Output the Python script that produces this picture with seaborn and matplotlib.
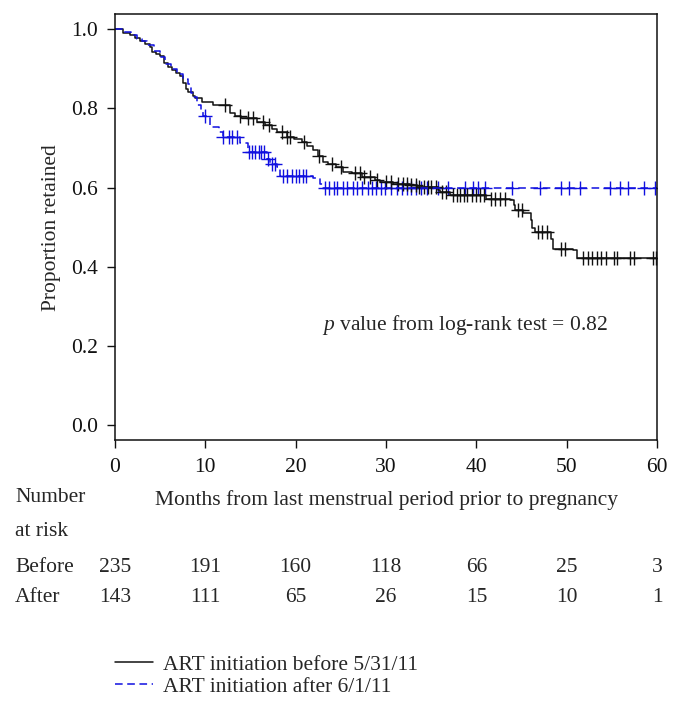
import numpy as np
import pandas as pd
import matplotlib
matplotlib.use("Agg")
import matplotlib.pyplot as plt
import matplotlib.transforms as mtransforms
import seaborn as sns

# Kaplan-Meier steps (event time, survival after the step)
before_times = [0, 0.9, 1.7, 2.2, 2.8, 3.4, 3.9, 4.1, 4.6, 5.0, 5.5, 5.9, 6.3, 6.8, 7.2, 7.5,
                7.9, 8.1, 8.6, 8.9, 9.7, 10.9, 12.7, 13.3, 14.0, 15.7, 16.6, 17.4, 17.9, 19.0,
                19.8, 20.7, 21.3, 21.9, 22.5, 23.0, 23.6, 24.5, 25.2, 26.2, 27.3, 28.8, 29.3,
                30.8, 32.7, 33.4, 35.8, 36.0, 37.1, 41.1, 43.7, 44.1, 44.3, 45.2, 46.0, 46.1,
                46.5, 48.2, 48.5, 50.7, 51.1]
before_surv = [1.0, 0.99, 0.985, 0.978, 0.97, 0.962, 0.955, 0.943, 0.938, 0.932, 0.914, 0.905,
               0.896, 0.89, 0.882, 0.864, 0.85, 0.842, 0.832, 0.826, 0.816, 0.808, 0.788, 0.78,
               0.775, 0.766, 0.758, 0.748, 0.741, 0.728, 0.722, 0.715, 0.705, 0.694, 0.68, 0.665,
               0.66, 0.652, 0.64, 0.636, 0.627, 0.619, 0.614, 0.61, 0.606, 0.602, 0.595, 0.589,
               0.581, 0.572, 0.568, 0.555, 0.543, 0.535, 0.518, 0.497, 0.488, 0.47, 0.446, 0.442,
               0.421]
before_censor = [12.2, 13.9, 14.7, 15.3, 16.4, 17.1, 18.5, 19.0, 19.4, 20.9, 22.6, 24.0, 25.0,
                 26.6, 27.1, 27.6, 28.2, 29.0, 30.0, 30.6, 31.3, 31.9, 32.3, 32.8, 33.3, 33.7,
                 34.2, 34.6, 35.0, 35.5, 36.2, 36.6, 37.4, 37.8, 38.2, 38.6, 39.0, 39.5, 39.9,
                 40.4, 40.8, 41.6, 42.1, 42.6, 43.2, 44.6, 45.0, 46.8, 47.3, 47.8, 49.3, 49.8,
                 51.8, 52.3, 52.8, 53.3, 53.8, 54.3, 55.2, 55.6, 57.0, 57.4, 59.5, 59.9]

after_times = [0, 1.0, 1.8, 2.5, 3.0, 3.6, 4.3, 5.0, 5.6, 6.2, 6.9, 7.6, 8.1, 8.4, 8.7, 9.1,
               9.5, 9.8, 10.5, 11.5, 12.0, 13.8, 14.7, 16.8, 17.2, 17.9, 18.3, 21.9, 22.7, 23.0]
after_surv = [1.0, 0.992, 0.985, 0.976, 0.97, 0.96, 0.945, 0.93, 0.912, 0.9, 0.888, 0.874,
              0.862, 0.84, 0.83, 0.808, 0.795, 0.782, 0.754, 0.74, 0.728, 0.712, 0.69, 0.673,
              0.66, 0.652, 0.629, 0.623, 0.61, 0.598]
after_censor = [10.0, 12.0, 12.6, 13.0, 13.5, 14.9, 15.2, 15.5, 15.9, 16.2, 16.5, 17.0, 17.4,
                17.7, 18.6, 19.1, 19.6, 20.0, 20.4, 20.8, 21.2, 23.3, 23.7, 24.2, 24.6, 25.2,
                25.7, 26.3, 26.8, 27.3, 28.0, 28.4, 28.9, 29.4, 29.9, 30.5, 31.2, 31.8, 32.3,
                32.8, 33.3, 33.9, 34.5, 35.8, 36.9, 38.7, 39.6, 40.2, 41.0, 43.9, 47.0, 49.3,
                50.2, 51.5, 54.8, 55.9, 56.8, 58.5, 59.8]

# number at risk table
risk_ticks = [0, 10, 20, 30, 40, 50, 60]
before_risk = [235, 191, 160, 118, 66, 25, 3]
after_risk = [143, 111, 65, 26, 15, 10, 1]

black = "#111111"
blue = "#1010e0"

sns.set_style("ticks")
plt.rcParams['font.family'] = ['Liberation Serif', 'DejaVu Serif']
plt.rcParams['mathtext.fontset'] = 'custom'
plt.rcParams['mathtext.rm'] = 'Liberation Serif'
plt.rcParams['mathtext.it'] = 'Liberation Serif:italic'
fs = 15.5

fig = plt.figure(figsize=(6.79, 7.11), dpi=100)
ax = fig.add_axes([0.169, 0.381, 0.799, 0.599])


def km_frame(times, surv, end=60):
    t = list(times) + [end]
    s = list(surv) + [surv[-1]]
    return pd.DataFrame({"t": t, "s": s})


def censor_frame(times, surv, cens):
    idx = np.searchsorted(times, cens, side="right") - 1
    return pd.DataFrame({"t": cens, "s": np.asarray(surv)[idx]})


sns.lineplot(data=km_frame(before_times, before_surv), x="t", y="s", drawstyle="steps-post",
             color=black, lw=1.1, ax=ax, label="ART initiation before 5/31/11")
sns.lineplot(data=km_frame(after_times, after_surv), x="t", y="s", drawstyle="steps-post",
             color=blue, lw=1.1, ax=ax, label="ART initiation after 6/1/11")
ax.lines[1].set_dashes([5, 3])

sns.scatterplot(data=censor_frame(after_times, after_surv, after_censor), x="t", y="s",
                marker="+", s=95, color=blue, linewidth=1.0, ax=ax, legend=False)
sns.scatterplot(data=censor_frame(before_times, before_surv, before_censor), x="t", y="s",
                marker="+", s=95, color=black, linewidth=1.0, ax=ax, legend=False)

ax.set_xlim(0, 60)
ax.set_ylim(-0.038, 1.038)
ax.set_xticks(risk_ticks)
ax.set_yticks([0.0, 0.2, 0.4, 0.6, 0.8, 1.0])
ax.set_yticklabels(["0.0", "0.2", "0.4", "0.6", "0.8", "1.0"])
ax.tick_params(direction="out", length=6, width=1, labelsize=fs, pad=6, colors="#111111")
ax.tick_params(axis="x", pad=7)
for sp in ax.spines.values():
    sp.set_linewidth(1.1)
    sp.set_color("#111111")

ax.set_xlabel("Months from last menstrual period prior to pregnancy", fontsize=fs, labelpad=9)
ax.set_ylabel("Proportion retained", fontsize=fs, labelpad=7)
ax.text(22.9, 0.253, "$p$ value from log-rank test = 0.82", fontsize=fs, va="center")

handles, labels = ax.get_legend_handles_labels()
ax.get_legend().remove()

# number at risk
tr = mtransforms.blended_transform_factory(ax.transData, fig.transFigure)
fig.text(0.022, 1 - 498 / 711, "Number", fontsize=fs, va="center")
fig.text(0.022, 1 - 531 / 711, "at risk", fontsize=fs, va="center")
fig.text(0.022, 1 - 567 / 711, "Before", fontsize=fs, va="center")
fig.text(0.022, 1 - 598 / 711, "After", fontsize=fs, va="center")
for xt, b, a in zip(risk_ticks, before_risk, after_risk):
    ax.text(xt, 1 - 567 / 711, str(b), transform=tr, fontsize=fs, ha="center", va="center")
    ax.text(xt, 1 - 598 / 711, str(a), transform=tr, fontsize=fs, ha="center", va="center")

fig.legend(handles, labels, loc="upper left", bbox_to_anchor=(0.156, 1 - 646 / 711),
           frameon=False, fontsize=fs, handlelength=1.8, handletextpad=0.45,
           labelspacing=0.1, borderaxespad=0)

fig.savefig("out.png", dpi=100)
